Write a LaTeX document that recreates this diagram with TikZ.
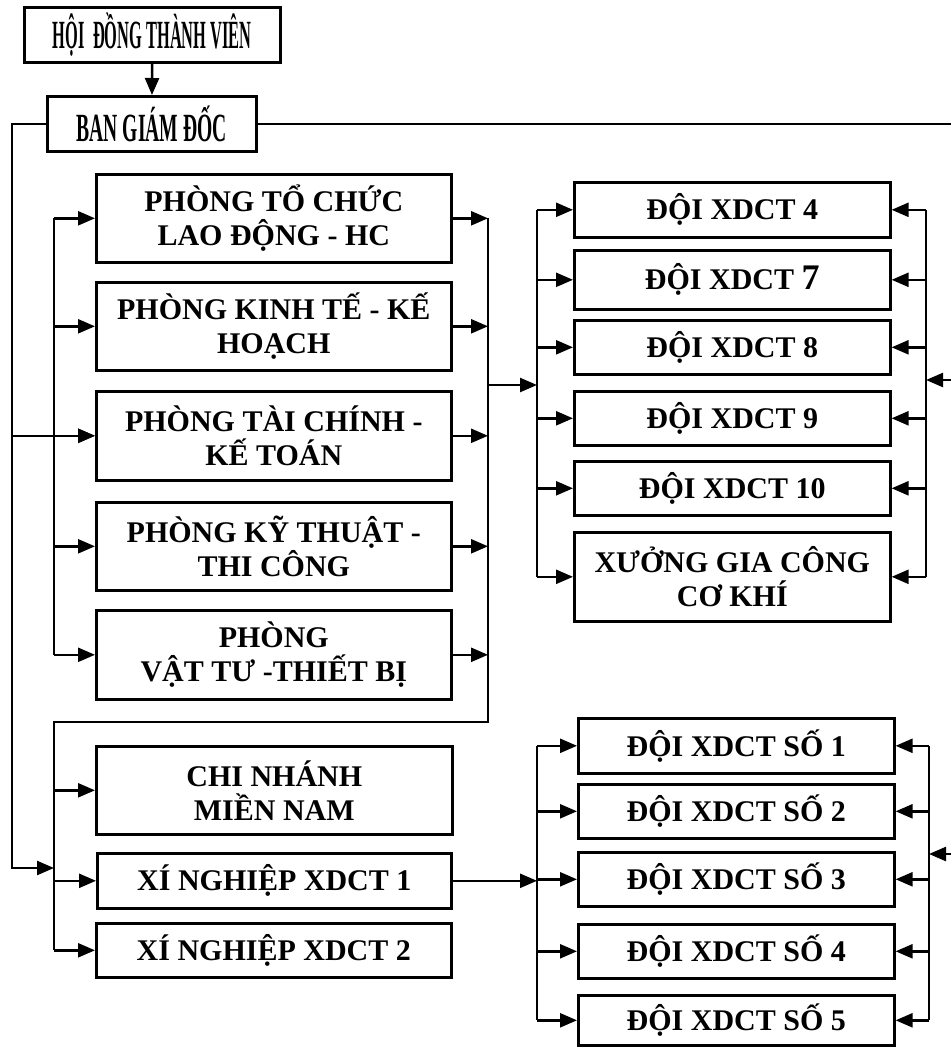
\documentclass[tikz,border=0pt]{standalone}
\usepackage{fontspec}
\setmainfont{Liberation Serif}
\usepackage{graphicx}
\usetikzlibrary{arrows.meta}
\begin{document}
\begin{tikzpicture}[x=1pt,y=-1pt,
  orgbox/.style={draw,line width=2.6pt,anchor=north west,inner sep=0pt,align=center,
    font=\bfseries\fontsize{30}{34}\selectfont},
  conn/.style={line width=2.4pt},
  arr/.style={conn,-{Triangle[length=17pt,width=14pt]}}]
\useasboundingbox (0,0) rectangle (951,1047);

% top
\node[orgbox,minimum width=256pt,minimum height=55pt] (hdtv) at (23,6)
  {\scalebox{0.41}[1]{\fontsize{40}{40}\selectfont HỘI\ \ ĐỒNG THÀNH VIÊN}};
\node[orgbox,minimum width=209pt,minimum height=55pt] (bgd) at (46,95)
  {\scalebox{0.49}[1]{\fontsize{40}{40}\selectfont BAN GIÁM ĐỐC}};

% departments
\node[orgbox,minimum width=355pt,minimum height=88pt] (p1) at (95,173) {PHÒNG TỔ CHỨC\\LAO ĐỘNG - HC};
\node[orgbox,minimum width=355pt,minimum height=88pt] (p2) at (95,281) {PHÒNG KINH TẾ - KẾ\\HOẠCH};
\node[orgbox,minimum width=355pt,minimum height=89pt] (p3) at (95,390) {PHÒNG TÀI CHÍNH -\\KẾ TOÁN};
\node[orgbox,minimum width=355pt,minimum height=88pt] (p4) at (95,501) {PHÒNG KỸ THUẬT -\\THI CÔNG};
\node[orgbox,minimum width=355pt,minimum height=89pt] (p5) at (95,609) {PHÒNG\\VẬT TƯ -THIẾT BỊ};
\node[orgbox,minimum width=356pt,minimum height=88pt] (cn) at (95,745) {CHI NHÁNH\\MIỀN NAM};
\node[orgbox,minimum width=354pt,minimum height=55pt] (xn1) at (96,852) {XÍ NGHIỆP XDCT 1};
\node[orgbox,minimum width=355pt,minimum height=54pt] (xn2) at (95,922) {XÍ NGHIỆP XDCT 2};

% teams
\node[orgbox,minimum width=316pt,minimum height=55pt] (d4) at (573,181) {ĐỘI XDCT 4};
\node[orgbox,minimum width=316pt,minimum height=59pt] (d7) at (573,249) {ĐỘI XDCT {\fontsize{36}{36}\selectfont 7}};
\node[orgbox,minimum width=316pt,minimum height=54pt] (d8) at (573,319) {ĐỘI XDCT 8};
\node[orgbox,minimum width=316pt,minimum height=54pt] (d9) at (573,390) {ĐỘI XDCT 9};
\node[orgbox,minimum width=316pt,minimum height=54pt] (d10) at (573,460) {ĐỘI XDCT 10};
\node[orgbox,minimum width=316pt,minimum height=89pt] (xg) at (573,531) {XƯỞNG GIA CÔNG\\CƠ KHÍ};

\node[orgbox,minimum width=316pt,minimum height=55pt] (s1) at (577,717) {ĐỘI XDCT SỐ 1};
\node[orgbox,minimum width=316pt,minimum height=54pt] (s2) at (577,783) {ĐỘI XDCT SỐ 2};
\node[orgbox,minimum width=316pt,minimum height=54pt] (s3) at (577,851) {ĐỘI XDCT SỐ 3};
\node[orgbox,minimum width=316pt,minimum height=54pt] (s4) at (577,923) {ĐỘI XDCT SỐ 4};
\node[orgbox,minimum width=316pt,minimum height=50pt] (s5) at (577,994) {ĐỘI XDCT SỐ 5};

% bus coordinates
\coordinate (jo) at (12,868);
\coordinate (ji) at (54,868);
\coordinate (jr) at (488,722);
\coordinate (jd) at (537,385);
\coordinate (je) at (926,380);
\coordinate (ee) at (951,380);
\coordinate (js) at (537,882);
\coordinate (jt) at (929,854);
\coordinate (et) at (951,854);

% connectors
\draw[arr] (hdtv) -- (bgd);
\draw[conn] (bgd.east) -- (bgd.east-|ee);
\draw[arr] (bgd.west) -| (jo) -- (ji);
\draw[arr] (p3.west-|jo) -- (p3.west);

\draw[conn] (p1.west-|ji) -- (p5.west-|ji);
\foreach \p in {p1,p2,p3,p4,p5}{
  \draw[arr] (\p.west-|ji) -- (\p.west);
  \draw[arr] (\p.east) -- (\p.east-|jr);
}
\draw[conn] (p1.east-|jr) -- (jr) -| (xn2.west-|ji);
\foreach \p in {cn,xn1,xn2}{
  \draw[arr] (\p.west-|ji) -- (\p.west);
}

\draw[arr] (jd-|jr) -- (jd);
\draw[conn] (d4.west-|jd) -- (xg.west-|jd);
\draw[conn] (d4.east-|je) -- (xg.east-|je);
\draw[arr] (ee) -- (je);
\foreach \d in {d4,d7,d8,d9,d10,xg}{
  \draw[arr] (\d.west-|jd) -- (\d.west);
  \draw[arr] (\d.east-|je) -- (\d.east);
}

\draw[arr] (xn1.east) -- (xn1.east-|js);
\draw[conn] (s1.west-|js) -- (s5.west-|js);
\draw[conn] (s1.east-|jt) -- (s5.east-|jt);
\draw[arr] (et) -- (jt);
\foreach \s in {s1,s2,s3,s4,s5}{
  \draw[arr] (\s.west-|js) -- (\s.west);
  \draw[arr] (\s.east-|jt) -- (\s.east);
}
\end{tikzpicture}
\end{document}
